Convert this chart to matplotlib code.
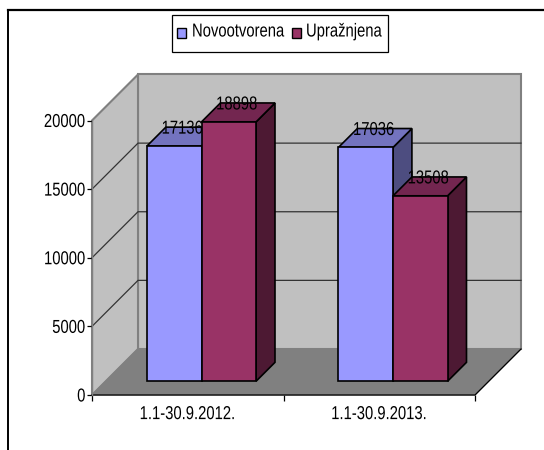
import matplotlib
matplotlib.use("Agg")
import matplotlib.pyplot as plt
import matplotlib.patheffects as pe
from matplotlib.path import Path
from matplotlib.patches import Polygon, Rectangle

categories = ["1.1-30.9.2012.", "1.1-30.9.2013."]
series_names = ["Novootvorena", "Upražnjena"]
novootvorena = [17136, 17036]
upraznjena = [18898, 13508]
y_ticks = [0, 5000, 10000, 15000, 20000]

plt.rcParams["font.family"] = "Liberation Sans"
FS = 13.5
SX = 0.79


class Squeeze(pe.AbstractPathEffect):
    """Condense real text horizontally (the source font is a narrow one)."""

    def __init__(self, sx, anchor):
        super().__init__()
        self.sx, self.anchor = sx, anchor

    def draw_path(self, renderer, gc, tpath, affine, rgbFace=None):
        v = tpath.vertices.copy()
        a = {"left": v[:, 0].min(), "right": v[:, 0].max(),
             "center": 0.5 * (v[:, 0].min() + v[:, 0].max())}[self.anchor]
        v[:, 0] = a + (v[:, 0] - a) * self.sx
        renderer.draw_path(gc, Path(v, tpath.codes), affine, rgbFace)


def squeeze(anchor):
    return [Squeeze(SX, anchor)]


W, H = 544, 450
fig = plt.figure(figsize=(W / 100, H / 100), dpi=100)
L, R, B, T = 92, 475, 395, 120.5
ax = fig.add_axes([L / W, 1 - B / H, (R - L) / W, (B - T) / H])
ax.set_xlim(0, 2)
ax.set_ylim(0, 20000)
ax.patch.set_visible(False)
for s in ax.spines.values():
    s.set_visible(False)

DX = 46 / ((R - L) / 2)
DY = 46 / ((B - T) / 20000)


def P(x, v, d):
    return (x + d * DX, v + d * DY)


def poly(points, fc, ec="black", lw=1.2, z=1):
    ax.add_patch(Polygon(points, closed=True, fc=fc, ec=ec, lw=lw, zorder=z,
                         clip_on=False, joinstyle="miter"))


# walls and floor
poly([P(0, 0, 1), P(2, 0, 1), P(2, 20000, 1), P(0, 20000, 1)], "#c0c0c0", "#808080", 1.5, 1)
poly([P(0, 0, 0), P(0, 0, 1), P(0, 20000, 1), P(0, 20000, 0)], "#c0c0c0", "#808080", 1.5, 1)
poly([P(0, 0, 0), P(2, 0, 0), P(2, 0, 1), P(0, 0, 1)], "#808080", "#808080", 0.8, 2)

# gridlines
for v in y_ticks[1:-1]:
    ax.plot(*zip(P(0, v, 0), P(0, v, 1), P(2, v, 1)), color="#333333", lw=0.9, zorder=2,
            clip_on=False)
ax.plot(*zip(P(0, 0, 0), P(2, 0, 0), P(2, 0, 1)), color="black", lw=0.9, zorder=3, clip_on=False)

# 3-D bars
D0, D1 = 0.30, 0.71
DL = 0.474
BW = 0.285


def bar(x0, x1, v, front, top, side, z):
    poly([P(x1, 0, D0), P(x1, 0, D1), P(x1, v, D1), P(x1, v, D0)], side, z=z)
    poly([P(x0, v, D0), P(x1, v, D0), P(x1, v, D1), P(x0, v, D1)], top, z=z)
    poly([P(x0, 0, D0), P(x1, 0, D0), P(x1, v, D0), P(x0, v, D0)], front, z=z)


def label(xc, v):
    x, _ = P(xc, v, DL)
    _, y = P(xc, v, D1)
    ax.text(x, y - 145, str(v), ha="center", va="center", fontsize=FS, zorder=6, color="black",
            path_effects=squeeze("center"))


for i in range(len(categories)):
    c = i + 0.5
    bar(c - BW, c, novootvorena[i], "#9999ff", "#7373bf", "#4d4d80", 4)
    bar(c, c + BW, upraznjena[i], "#993366", "#732650", "#4d1933", 5)
    label(c - BW / 2, novootvorena[i])
    label(c + BW / 2, upraznjena[i])

# axis lines and ticks
ax.plot([0, 0], [0, 20000], color="#808080", lw=1.0, zorder=3, clip_on=False)
ax.set_xticks([0, 1, 2], [])
ax.set_yticks(y_ticks)
ax.tick_params(axis="x", length=4.5, width=0.9, color="black")
ax.tick_params(axis="y", length=3.6, width=0.9, color="black", labelsize=FS, pad=1)
ax.set_xticks([0.5, 1.5], categories, minor=True)
ax.tick_params(axis="x", which="minor", length=0, labelsize=FS, pad=8)
for t in ax.get_yticklabels():
    t.set_path_effects(squeeze("right"))
for t in ax.get_xticklabels(minor=True):
    t.set_path_effects(squeeze("center"))

# page frame: only the top and left rules exist
fig.add_artist(plt.Line2D([8 / W, 8 / W], [0, 1 - 10 / H], color="black", lw=1.4))
fig.add_artist(plt.Line2D([8 / W, 1], [1 - 10 / H, 1 - 10 / H], color="black", lw=1.6))

# legend
LEG_BOTTOM = 52
fig.add_artist(Rectangle((172 / W, 1 - LEG_BOTTOM / H), 216 / W, (LEG_BOTTOM - 15) / H, fc="white",
                         ec="black", lw=0.9, transform=fig.transFigure))
for nm, col, xs, xt in zip(series_names, ["#9999ff", "#993366"], [177, 292], [192, 306]):
    fig.add_artist(Rectangle((xs / W, 1 - 38 / H), 8.5 / W, 10.5 / H, fc=col, ec="black", lw=1.0,
                             transform=fig.transFigure))
    fig.text(xt / W, 1 - 32 / H, nm, fontsize=FS, va="center", ha="left",
             path_effects=squeeze("left"))

fig.savefig("out.png", dpi=100)
